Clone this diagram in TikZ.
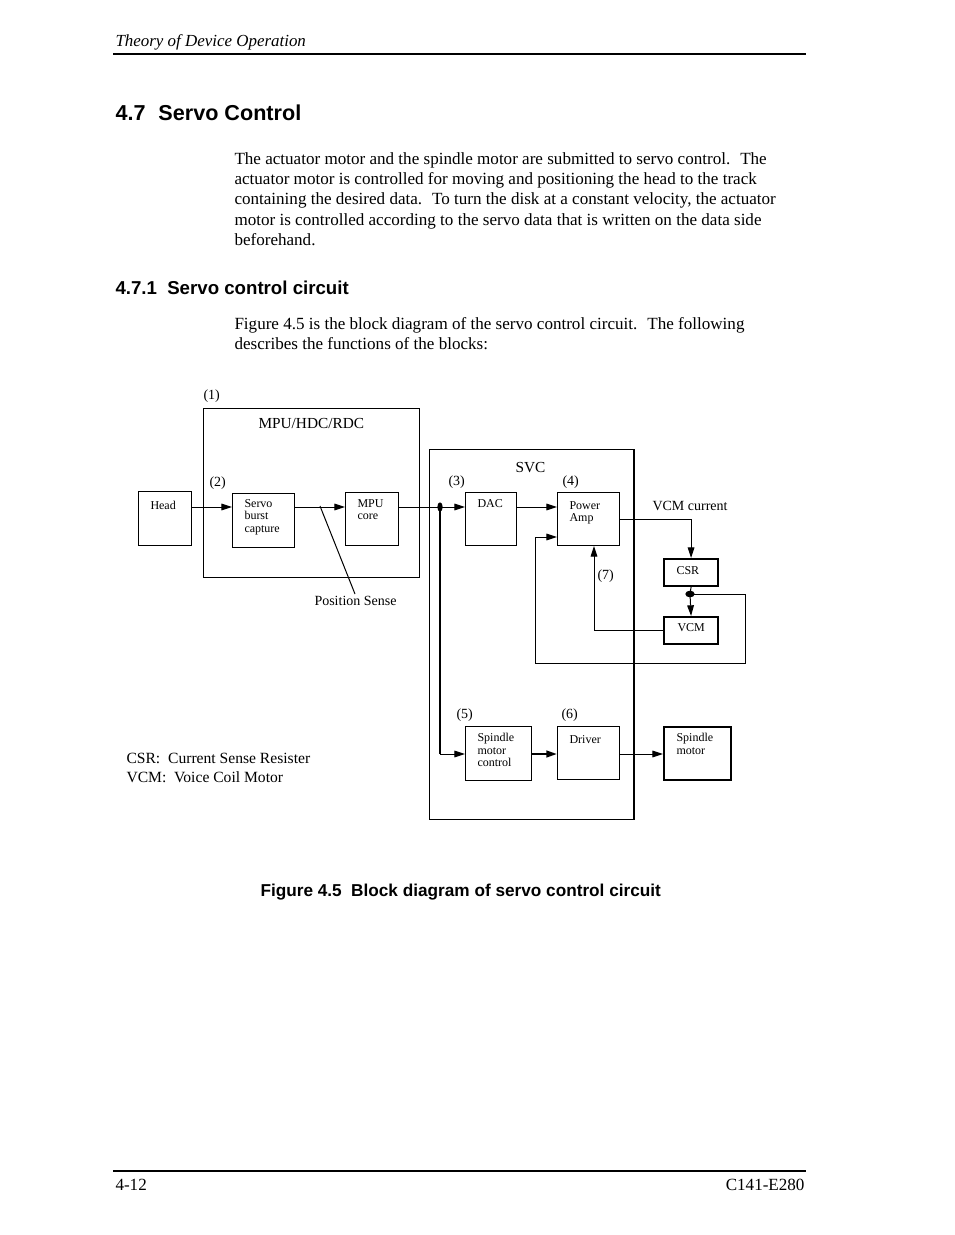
\documentclass[tikz,border=0pt]{standalone}
\usepackage{fontspec}
\setmainfont{Liberation Serif}
\newfontfamily\hsans{Liberation Sans}
\usetikzlibrary{arrows.meta,shapes.geometric,calc}
\tikzset{
  txt/.style={inner sep=0pt, anchor=base west, font=\fontsize{12.8}{15}\selectfont},
  lbl/.style={inner sep=0pt, anchor=base west, font=\fontsize{10.5}{12}\selectfont},
  btxt/.style={inner sep=0pt, anchor=north west, align=left, font=\fontsize{9}{9.4}\selectfont},
  box/.style={draw, line width=0.75pt, inner sep=0pt, anchor=north west},
  wh/.style 2 args={minimum width=#1*0.75pt, minimum height=#2*0.75pt},
  arr/.style={line width=0.75pt, -{Triangle[length=8pt,width=5pt]}},
  thl/.style={line width=1.6pt},
  dotv/.style={ellipse, fill, draw=none, inner sep=0pt, minimum width=4pt, minimum height=7pt},
  doth/.style={ellipse, fill, draw=none, inner sep=0pt, minimum width=7pt, minimum height=5pt}
}
\begin{document}
\begin{tikzpicture}[x=0.75pt,y=-0.75pt, line width=0.75pt]
\path[use as bounding box, fill=white] (0,0) rectangle (954,1235);

% header / footer
\node[txt, font=\fontsize{12.7}{15}\selectfont\itshape] (hdr) at (115,46) {Theory of Device Operation};
\coordinate (hl1) at (113,54); \coordinate (hl2) at (806,54);
\draw[line width=0.9pt] (hl1) -- (hl2);
\coordinate (fl1) at (113,1171); \coordinate (fl2) at (806,1171);
\draw[line width=1.6pt] (fl1) -- (fl2);
\node[txt] (pg) at (115,1190) {4-12};
\node[txt, anchor=base east] (doc) at (805,1190) {C141-E280};

% headings and body
\node[txt, font=\fontsize{16.2}{20}\hsans\bfseries] (h1) at (115,120) {4.7\hspace{0.6em}Servo Control};
\node[txt] (b1) at (234,164) {The actuator motor and the spindle motor are submitted to servo control.~ The};
\node[txt] (b2) at (234,184) {actuator motor is controlled for moving and positioning the head to the track};
\node[txt] (b3) at (234,204) {containing the desired data.~ To turn the disk at a constant velocity, the actuator};
\node[txt] (b4) at (234,225) {motor is controlled according to the servo data that is written on the data side};
\node[txt] (b5) at (234,245) {beforehand.};
\node[txt, font=\fontsize{14}{16}\hsans\bfseries] (h2) at (115,294) {4.7.1\hspace{0.55em}Servo control circuit};
\node[txt] (p1) at (234,329) {Figure 4.5 is the block diagram of the servo control circuit.~ The following};
\node[txt] (p2) at (234,349) {describes the functions of the blocks:};
\node[txt, font=\fontsize{12.9}{15}\hsans\bfseries] (cap) at (260,896) {Figure 4.5\hspace{0.55em}Block diagram of servo control circuit};

% boxes
\node[box, wh={216}{169}, line width=1.1pt] (mpu) at (203,408) {};
\node[box, wh={53}{54}] (head) at (138,491) {};
\node[box, wh={62}{54}, line width=1pt] (sbc) at (232,493) {};
\node[box, wh={53}{53}] (core) at (345,492) {};
\node[box, wh={204}{370}] (svc) at (429,449) {};
\draw[line width=1.6pt] (svc.north east) -- (svc.south east);
\node[box, wh={51}{53}] (dac) at (465,492) {};
\node[box, wh={62}{53}] (pamp) at (557,492) {};
\node[box, wh={54}{27}, line width=1.6pt] (csr) at (663,558) {};
\node[box, wh={54}{27}, line width=1.6pt] (vcm) at (663,616) {};
\node[box, wh={66}{54}] (smc) at (465,726) {};
\node[box, wh={62}{53}] (drv) at (557,726) {};
\node[box, wh={67}{53}, line width=1.6pt] (spm) at (663,726) {};

% box texts
\node[btxt] (thead) at (150,501) {Head};
\node[btxt] (tsbc) at (244,499) {Servo\\burst\\capture};
\node[btxt] (tcore) at (357,499) {MPU\\core};
\node[btxt] (tdac) at (477,499) {DAC};
\node[btxt] (tpamp) at (569,501) {Power\\Amp};
\node[btxt] (tcsr) at (676,566) {CSR};
\node[btxt] (tvcm) at (677,623) {VCM};
\node[btxt] (tsmc) at (477,733) {Spindle\\motor\\control};
\node[btxt] (tdrv) at (569,735) {Driver};
\node[btxt] (tspm) at (676,733) {Spindle\\motor};

% labels
\node[lbl] (l1) at (203,399) {(1)};
\node[lbl, font=\fontsize{11.5}{13}\selectfont] (lmpu) at (258,428) {MPU/HDC/RDC};
\node[lbl] (l2) at (209,486) {(2)};
\node[lbl] (lps) at (314,605) {Position Sense};
\node[lbl, font=\fontsize{11.5}{13}\selectfont] (lsvc) at (515,472) {SVC};
\node[lbl] (l3) at (448,485) {(3)};
\node[lbl] (l4) at (562,485) {(4)};
\node[lbl] (lvcmc) at (652,510) {VCM current};
\node[lbl] (l7) at (597,579) {(7)};
\node[lbl] (l5) at (456,718) {(5)};
\node[lbl] (l6) at (561,718) {(6)};
\node[lbl, font=\fontsize{11.7}{13}\selectfont] (lcsr) at (126,763) {CSR:~ Current Sense Resister};
\node[lbl, font=\fontsize{11.7}{13}\selectfont] (lvcm) at (126,782) {VCM:~ Voice Coil Motor};

% helper coordinates
\coordinate (ya) at (0,507);
\coordinate (yb) at (0,754);
\coordinate (yc) at (0,537);
\coordinate (yd) at (0,519);
\coordinate (ps1) at (320,506);
\coordinate (ps2) at (355,594);
\coordinate (fbR) at (745,663);
\coordinate (fbL) at (535,663);
\coordinate (xf) at (594,0);
\node[dotv] (d1) at (440,507) {};
\node[doth] (d2) at (690,594) {};

% connectors
\draw[arr] (head.east |- ya) -- (sbc.west |- ya);
\draw[arr] (sbc.east |- ya) -- (core.west |- ya);
\draw (ps1) -- (ps2);
\draw (core.east |- ya) -- (d1.center);
\draw[arr] (d1.center) -- (dac.west |- ya);
\draw[thl] (d1.center) -- (d1.center |- yb);
\draw[arr] (d1.center |- yb) -- (smc.west |- yb);
\draw[arr] (dac.east |- ya) -- (pamp.west |- ya);
\draw[arr] (pamp.east |- yd) -| (csr.north);
\draw (csr.south) -- (d2.center);
\draw[arr] (d2.center) -- (vcm.north);
\draw[arr] (d2.center) -- (fbR |- d2) -- (fbR) -- (fbL) -- (fbL |- yc) -- (pamp.west |- yc);
\draw[arr] (vcm.west) -| (xf |- pamp.south);
\draw[arr, line width=1.6pt] (smc.east |- yb) -- (drv.west |- yb);
\draw[arr] (drv.east |- yb) -- (spm.west |- yb);
\end{tikzpicture}
\end{document}
